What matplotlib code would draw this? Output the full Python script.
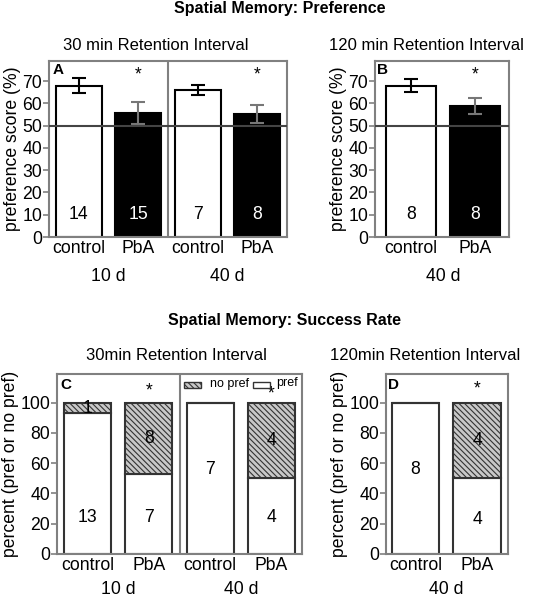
import matplotlib
matplotlib.use('Agg')
import matplotlib.pyplot as plt
from matplotlib.patches import Rectangle
import numpy as np

plt.rcParams['font.family'] = ['Liberation Sans', 'DejaVu Sans']
plt.rcParams['hatch.color'] = '#333333'
plt.rcParams['hatch.linewidth'] = 0.8

# preference score data (panels A, B)
groups_pref = ['control', 'PbA', 'control', 'PbA']
pref_A = [68, 55.8, 66, 55.3]
err_A = [3.2, 5.0, 2.3, 4.0]
n_A = ['14', '15', '7', '8']
pref_B = [68, 58.8]
err_B = [2.8, 3.8]
n_B = ['8', '8']
ages_A = ['10 d', '40 d']
ages_B = ['40 d']

# success rate data (panels C, D), percent of animals
pref_pct_C = [93, 53, 100, 50]
nopref_pct_C = [7, 47, 0, 50]
pref_n_C = ['13', '7', '7', '4']
nopref_n_C = ['1', '8', '', '4']
pref_pct_D = [100, 50]
nopref_pct_D = [0, 50]
pref_n_D = ['8', '4']
nopref_n_D = ['', '4']

W, H = 540, 599
fig = plt.figure(figsize=(W / 100, H / 100), dpi=100)

GREY = '#808080'
FS = 12.7
HATCH = '\\\\\\\\\\\\'


def box(l, r, t, b):
    return [l / W, 1 - b / H, (r - l) / W, (b - t) / H]


def style(ax):
    for s in ax.spines.values():
        s.set_color(GREY)
        s.set_linewidth(1.5)
    ax.tick_params(axis='y', direction='out', length=4, width=1.2, color=GREY,
                   labelsize=FS, pad=1)
    ax.tick_params(axis='x', length=0, labelsize=FS, pad=2)


def pref_panel(ax, vals, errs, ns, ages, letter, xlim, sep=True):
    x = np.arange(len(vals))
    colors = ['white' if i % 2 == 0 else 'black' for i in range(len(vals))]
    ax.bar(x, vals, width=0.77, color=colors, edgecolor='black', linewidth=1.5, zorder=2)
    for i in range(len(vals)):
        ec = 'black' if i % 2 == 0 else '#777777'
        ax.errorbar(x[i], vals[i], yerr=errs[i], fmt='none', ecolor=ec,
                    elinewidth=1.5, capsize=5, capthick=1.5, zorder=3)
        tc = 'black' if i % 2 == 0 else 'white'
        ax.text(x[i], 10, ns[i], ha='center', va='center', fontsize=FS, color=tc, zorder=4)
        if i % 2 == 1:
            ax.text(x[i], 72.5, '*', ha='center', va='center', fontsize=FS)
    ax.axhline(50, color='#444444', lw=1.5, zorder=3)
    if sep:
        ax.axvline(1.5, color=GREY, lw=1.5)
    ax.set_ylim(0, 79)
    ax.set_xlim(*xlim)
    ax.set_yticks(range(0, 71, 10))
    ax.set_xticks(x)
    ax.set_xticklabels(groups_pref[:len(vals)])
    ax.set_ylabel('preference score (%)', fontsize=FS, labelpad=1)
    for j, a in enumerate(ages):
        ax.text(2 * j + 0.5, -0.225, a, transform=ax.get_xaxis_transform(),
                ha='center', va='center', fontsize=FS)
    ax.text(0.015, 0.99, letter, transform=ax.transAxes, ha='left', va='top',
            fontsize=11, fontweight='bold')
    style(ax)


def rate_panel(ax, p, q, pn, qn, ages, letter, xlim, star_y, sep=True):
    x = np.arange(len(p))
    ax.bar(x, p, width=0.77, color='white', edgecolor='#333333', linewidth=1.5, zorder=2)
    ax.bar(x, q, bottom=p, width=0.77, color='#c8c8c8', edgecolor='#333333',
           linewidth=1.5, hatch=HATCH, zorder=2)
    for i in range(len(p)):
        if pn[i]:
            ypos = 24 if q[i] > 0 else 56
            if len(p) == 2 and i == 1:
                ypos = 23
            ax.text(x[i], ypos, pn[i], ha='center', va='center', fontsize=FS, zorder=4)
        if qn[i]:
            ax.text(x[i], p[i] + q[i] / 2 if q[i] > 10 else 96.5, qn[i],
                    ha='center', va='center', fontsize=FS, zorder=4)
    for xi, yi in star_y:
        ax.text(xi, yi, '*', ha='center', va='center', fontsize=FS)
    if sep:
        ax.axvline(1.5, color=GREY, lw=1.5)
    ax.set_ylim(0, 119)
    ax.set_xlim(*xlim)
    ax.set_yticks(range(0, 101, 20))
    ax.set_xticks(x)
    ax.set_xticklabels(groups_pref[:len(p)])
    ax.set_ylabel('percent (pref or no pref)', fontsize=FS, labelpad=1)
    for j, a in enumerate(ages):
        ax.text(2 * j + 0.5, -0.2, a, transform=ax.get_xaxis_transform(),
                ha='center', va='center', fontsize=FS)
    ax.text(0.015, 0.98, letter, transform=ax.transAxes, ha='left', va='top',
            fontsize=11, fontweight='bold')
    style(ax)


axA = fig.add_axes(box(49, 287, 61, 237))
pref_panel(axA, pref_A, err_A, n_A, ages_A, 'A', (-0.5, 3.5))
axB = fig.add_axes(box(375, 509, 61, 237))
pref_panel(axB, pref_B, err_B, n_B, ages_B, 'B', (-0.56, 1.53), sep=False)

axC = fig.add_axes(box(57, 302, 374, 554))
rate_panel(axC, pref_pct_C, nopref_pct_C, pref_n_C, nopref_n_C, ages_A, 'C',
           (-0.5, 3.5), [(1, 108), (3, 105.5)])
axD = fig.add_axes(box(386, 508, 374, 554))
rate_panel(axD, pref_pct_D, nopref_pct_D, pref_n_D, nopref_n_D, ages_B, 'D',
           (-0.48, 1.5), [(1, 109)], sep=False)

# legend in panel C
axC.add_patch(Rectangle((1.58, 109.5), 0.27, 4.5, facecolor='#c8c8c8', edgecolor='#333333',
                        hatch=HATCH, lw=1, clip_on=False, zorder=5))
axC.text(2.0, 112.5, 'no pref', fontsize=9, va='center', ha='left')
axC.add_patch(Rectangle((2.7, 109.5), 0.27, 4.5, facecolor='white', edgecolor='#333333',
                        lw=1, clip_on=False, zorder=5))
axC.text(3.08, 113, 'pref', fontsize=9, va='center', ha='left')

fig.text(280 / W, 1 - 8 / H, 'Spatial Memory: Preference', ha='center', va='center',
         fontsize=11.5, fontweight='bold')
fig.text(156 / W, 1 - 45 / H, '30 min Retention Interval', ha='center', va='center', fontsize=12)
fig.text(426 / W, 1 - 45 / H, '120 min Retention Interval', ha='center', va='center', fontsize=12)
fig.text(285 / W, 1 - 320 / H, 'Spatial Memory: Success Rate', ha='center', va='center',
         fontsize=11.5, fontweight='bold')
fig.text(176 / W, 1 - 355 / H, '30min Retention Interval', ha='center', va='center', fontsize=12)
fig.text(425 / W, 1 - 355 / H, '120min Retention Interval', ha='center', va='center', fontsize=12)

fig.savefig('out.png', dpi=100)
